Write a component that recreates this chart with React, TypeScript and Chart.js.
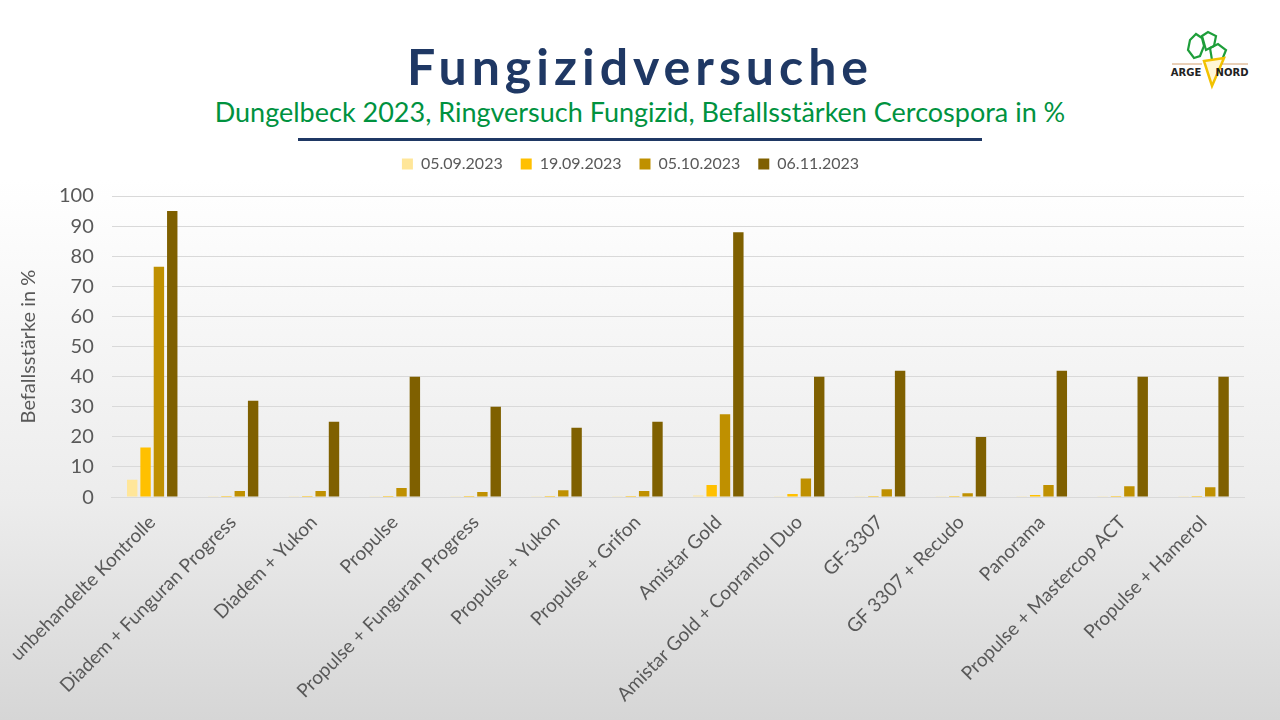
import React, { useEffect, useRef } from "react";
import { Chart, registerables } from "chart.js";

Chart.register(...registerables);

const categories = [
  "unbehandelte Kontrolle",
  "Diadem + Funguran Progress",
  "Diadem + Yukon",
  "Propulse",
  "Propulse + Funguran Progress",
  "Propulse + Yukon",
  "Propulse + Grifon",
  "Amistar Gold",
  "Amistar Gold + Coprantol Duo",
  "GF-3307",
  "GF 3307 + Recudo",
  "Panorama",
  "Propulse + Mastercop ACT",
  "Propulse + Hamerol",
];

const seriesLabels = ["05.09.2023", "19.09.2023", "05.10.2023", "06.11.2023"];
const seriesColors = ["#FFE699", "#FFC000", "#BF9000", "#7F6000"];

const values0509 = [5.8, 0.3, 0.3, 0.3, 0.3, 0.3, 0.3, 0.5, 0.3, 0.3, 0.3, 0.3, 0.3, 0.3];
const values1909 = [16.5, 0.4, 0.4, 0.4, 0.4, 0.4, 0.4, 4, 1, 0.4, 0.4, 0.7, 0.4, 0.4];
const values0510 = [76.5, 2, 2, 3, 1.7, 2.3, 2, 27.5, 6.2, 2.6, 1.3, 4, 3.6, 3.3];
const values0611 = [95, 32, 25, 40, 30, 23, 25, 88, 40, 42, 20, 42, 40, 40];

const yTicks = [0, 10, 20, 30, 40, 50, 60, 70, 80, 90, 100];

const FONT = "Lato, 'Open Sans', sans-serif";

// extra room between legend and plot
const legendGap = {
  id: "legendGap",
  beforeInit(chart: any) {
    const legend = chart.legend;
    if (!legend) return;
    const fit = legend.fit;
    legend.fit = function () {
      fit.bind(legend)();
      this.height += 14;
    };
  },
};

const ChartPanel = () => {
  const canvasRef = useRef<HTMLCanvasElement>(null);

  useEffect(() => {
    if (!canvasRef.current) return;
    const allValues = [values0509, values1909, values0510, values0611];
    const chart = new Chart(canvasRef.current, {
      type: "bar",
      data: {
        labels: categories,
        datasets: seriesLabels.map((label, i) => ({
          label,
          data: allValues[i],
          backgroundColor: seriesColors[i],
          borderWidth: 0,
          categoryPercentage: 0.66,
          barPercentage: 0.78,
        })),
      },
      plugins: [legendGap],
      options: {
        animation: false,
        responsive: false,
        maintainAspectRatio: false,
        layout: { padding: { left: 17, right: 36, top: 0, bottom: 0 } },
        plugins: {
          legend: {
            position: "top",
            labels: {
              boxWidth: 11,
              boxHeight: 11,
              padding: 18,
              color: "#595959",
              font: { family: FONT, size: 16 },
            },
          },
          tooltip: { enabled: false },
        },
        scales: {
          x: {
            grid: { display: false },
            border: { display: true, color: "#d9d9d9", width: 1 },
            ticks: {
              color: "#595959",
              font: { family: FONT, size: 19 },
              maxRotation: 45,
              minRotation: 45,
              autoSkip: false,
              padding: 6,
            },
          },
          y: {
            min: 0,
            max: 100,
            afterBuildTicks: (axis: any) => {
              axis.ticks = yTicks.map((v) => ({ value: v }));
            },
            grid: { color: "#d9d9d9", lineWidth: 1, drawTicks: false },
            border: { display: false },
            ticks: {
              color: "#595959",
              font: { family: FONT, size: 20 },
              padding: 18,
            },
            title: {
              display: true,
              text: "Befallsstärke in %",
              color: "#595959",
              font: { family: FONT, size: 20 },
              padding: 0,
            },
          },
        },
      },
    });
    return () => {
      chart.destroy();
    };
  }, []);

  return <canvas ref={canvasRef} width={1280} height={574} style={{ display: "block" }} />;
};

const Logo = () => (
  <div style={{ position: "absolute", left: 1160, top: 28, width: 100, height: 64 }}>
    <svg width="100" height="64" viewBox="0 0 100 64">
      <path d="M30 12 L36 6 L42 10 L44 18 L40 28 L34 30 L28 22 Z" fill="none" stroke="#1e9e3a" strokeWidth="2.2" />
      <path d="M42 8 L48 4 L56 8 L54 18 L46 22 Z" fill="none" stroke="#1e9e3a" strokeWidth="2.2" />
      <path d="M50 20 L58 16 L66 22 L62 32 L52 32 Z" fill="none" stroke="#1e9e3a" strokeWidth="2.2" />
      <path d="M44 33 L64 30 L52 58 Z" fill="#fff7d6" stroke="#f2c200" strokeWidth="2.5" />
      <line x1="12" y1="36" x2="42" y2="36" stroke="#c8884a" strokeWidth="0.8" />
      <line x1="62" y1="36" x2="88" y2="36" stroke="#c8884a" strokeWidth="0.8" />
      <text x="26" y="48" fontSize="10" fontWeight="bold" fill="#222" fontFamily="'DejaVu Sans', sans-serif" textAnchor="middle">ARGE</text>
      <text x="72" y="48" fontSize="10" fontWeight="bold" fill="#222" fontFamily="'DejaVu Sans', sans-serif" textAnchor="middle">NORD</text>
    </svg>
  </div>
);

export default function App() {
  return (
    <div
      style={{
        position: "fixed",
        left: 0,
        top: 0,
        width: 1280,
        height: 720,
        overflow: "hidden",
        background: "linear-gradient(to bottom, #ffffff 0%, #ffffff 25%, #ececec 70%, #d6d6d6 100%)",
        fontFamily: FONT,
      }}
    >
      <div
        style={{
          position: "absolute",
          top: 36,
          left: 0,
          width: 1280,
          textAlign: "center",
          fontSize: 50,
          fontWeight: 700,
          letterSpacing: 5,
          color: "#1F3864",
          lineHeight: "60px",
        }}
      >
        Fungizidversuche
      </div>
      <div
        style={{
          position: "absolute",
          top: 95,
          left: 0,
          width: 1280,
          textAlign: "center",
          fontSize: 27,
          color: "#00923F",
          lineHeight: "34px",
        }}
      >
        Dungelbeck 2023, Ringversuch Fungizid, Befallsstärken Cercospora in %
      </div>
      <div
        style={{
          position: "absolute",
          top: 138,
          left: 298,
          width: 684,
          height: 3,
          background: "#1F3864",
        }}
      />
      <Logo />
      <div style={{ position: "absolute", top: 138, left: 0 }}>
        <ChartPanel />
      </div>
    </div>
  );
}
